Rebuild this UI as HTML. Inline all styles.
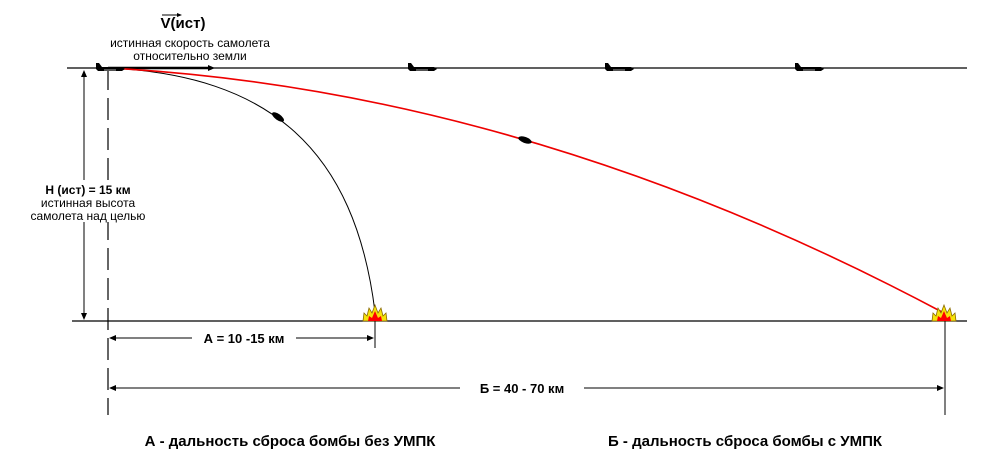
<!DOCTYPE html>
<html><head><meta charset="utf-8"><style>
body{margin:0;background:#fff}
svg{display:block}
text{font-family:"Liberation Sans",sans-serif;fill:#000}
</style></head><body>
<svg width="1000" height="466" viewBox="0 0 1000 466" xmlns="http://www.w3.org/2000/svg">
<defs>
<g id="pl"><path d="M0,-6 L3,-6 L6,-2 L26,-2 L29,0 L26,2 L2,2 L0,0 Z" fill="#000"/><rect x="8" y="0" width="12" height="2" fill="#555"/></g>
<g id="fire"><path d="M-12,0 L-11,-8 L-8,-5 L-6,-13 L-3,-8 L0,-16 L3,-8 L6,-13 L8,-5 L11,-8 L12,0 Z" fill="#f5e20a" stroke="#8a6a00" stroke-width="0.8"/><path d="M-7,0 L-6,-5 L-3,-3 L0,-10 L3,-3 L6,-5 L7,0 Z" fill="#f00"/></g>
</defs>
<line x1="67" y1="68" x2="967" y2="68" stroke="#000" stroke-width="1.2"/>
<line x1="72" y1="321" x2="967" y2="321" stroke="#000" stroke-width="1.2"/>
<line x1="108" y1="68" x2="108" y2="415" stroke="#000" stroke-width="1.2" stroke-dasharray="22,8"/>
<line x1="84" y1="72" x2="84" y2="318" stroke="#000"/>
<path d="M84,70 l-3,7 h6z M84,320 l-3,-7 h6z" fill="#000"/>
<line x1="108" y1="68" x2="212" y2="68" stroke="#000" stroke-width="2.5"/>
<path d="M215,68 l-7,-3 v6z" fill="#000"/>
<path d="M108,68 C270,75 355,150 375,312" fill="none" stroke="#000" stroke-width="1"/>
<path d="M108,68 Q525,90 942,312" fill="none" stroke="#e00" stroke-width="1.6"/>
<ellipse cx="278" cy="117" rx="7" ry="3" transform="rotate(35 278 117)" fill="#000"/>
<ellipse cx="525" cy="140" rx="7" ry="3" transform="rotate(20 525 140)" fill="#000"/>
<use href="#pl" x="96" y="69"/>
<use href="#pl" x="408" y="69"/>
<use href="#pl" x="605" y="69"/>
<use href="#pl" x="795" y="69"/>
<use href="#fire" x="375" y="321"/>
<use href="#fire" x="944" y="321"/>
<line x1="375" y1="321" x2="375" y2="348" stroke="#000"/>
<line x1="945" y1="321" x2="945" y2="415" stroke="#000"/>
<line x1="110" y1="338" x2="373" y2="338" stroke="#000"/>
<path d="M109,338 l7,-3 v6z M374,338 l-7,-3 v6z" fill="#000"/>
<line x1="110" y1="388" x2="943" y2="388" stroke="#000"/>
<path d="M109,388 l7,-3 v6z M944,388 l-7,-3 v6z" fill="#000"/>
<rect x="192" y="330" width="104" height="16" fill="#fff"/>
<text x="244" y="343" font-size="13" font-weight="bold" text-anchor="middle">А = 10 -15 км</text>
<rect x="460" y="380" width="124" height="16" fill="#fff"/>
<text x="522" y="393" font-size="13" font-weight="bold" text-anchor="middle">Б = 40 - 70 км</text>
<text x="183" y="28" font-size="15" font-weight="bold" text-anchor="middle">V(ист)</text>
<line x1="162" y1="15" x2="180" y2="15" stroke="#000"/>
<path d="M182,15 l-5,-2 v4z" fill="#000"/>
<text x="190" y="47" font-size="12" text-anchor="middle">истинная скорость самолета</text>
<text x="190" y="60" font-size="12" text-anchor="middle">относительно земли</text>
<rect x="36" y="180" width="106" height="42" fill="#fff"/>
<text x="88" y="194" font-size="12" font-weight="bold" text-anchor="middle">Н (ист) = 15 км</text>
<text x="88" y="207" font-size="12" text-anchor="middle">истинная высота</text>
<text x="88" y="220" font-size="12" text-anchor="middle">самолета над целью</text>
<text x="290" y="446" font-size="15" font-weight="bold" text-anchor="middle">А - дальность сброса бомбы без УМПК</text>
<text x="745" y="446" font-size="15" font-weight="bold" text-anchor="middle">Б - дальность сброса бомбы с УМПК</text>
</svg>
</body></html>
